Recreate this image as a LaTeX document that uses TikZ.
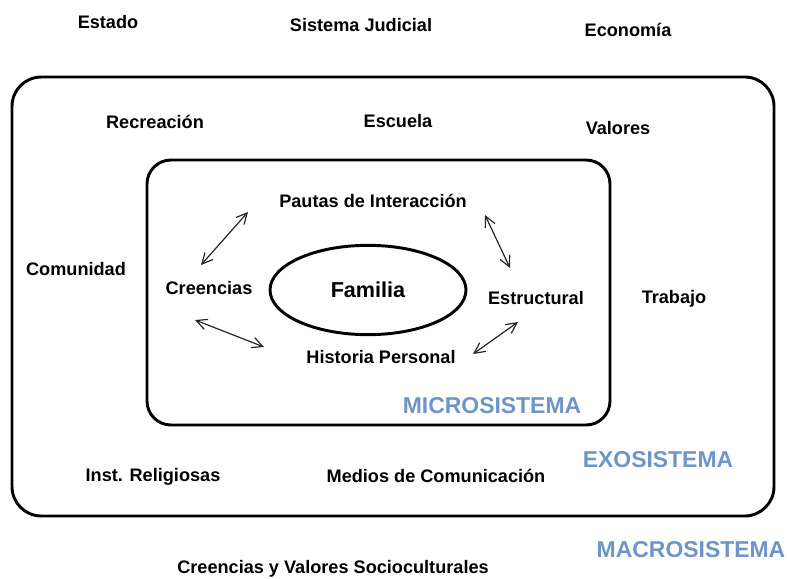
\documentclass[tikz,border=0pt]{standalone}
\usepackage{fontspec}
\setmainfont{Liberation Sans}
\usetikzlibrary{arrows.meta,shapes.geometric}
\definecolor{sysblue}{RGB}{112,148,200}
\tikzset{every picture/.style={line width=0.75pt}}
\tikzset{
  lbl/.style={inner sep=0.75pt, font=\fontsize{13.6}{15}\selectfont\bfseries},
  syslbl/.style={inner sep=0.75pt, text=sysblue, font=\fontsize{17.2}{19}\selectfont\bfseries},
  dbl/.style={{Straight Barb[length=8pt,width=8pt]}-{Straight Barb[length=8pt,width=8pt]}, draw=black!85, line width=0.9pt}
}
\begin{document}
\begin{tikzpicture}[x=0.75pt,y=0.75pt,yscale=-1,xscale=1]
\useasboundingbox (0,0) rectangle (787,578);

%Rounded rect: exosistema
\draw [line width=2.2pt, rounded corners=22pt] (12,77) rectangle (774,516);
%Rounded rect: microsistema
\draw [line width=2.2pt, rounded corners=18pt] (147,160) rectangle (610,425);
%Ellipse: familia
\node (familia) [draw, ellipse, line width=2.2pt, minimum width=147pt, minimum height=67pt, inner sep=0pt, font=\fontsize{16.2}{18}\selectfont\bfseries] at (368,290) {Familia};

% Text Node: macrosistema
\node (estado) [lbl] at (108,22) {Estado};
\node (judicial) [lbl] at (361,25) {Sistema Judicial};
\node (economia) [lbl] at (628,30) {Economía};
\node (creenciasvs) [lbl] at (333,569) {Creencias y Valores Socioculturales};
\node (macro) [syslbl] at (691,550) {MACROSISTEMA};

% Text Node: exosistema
\node (recreacion) [lbl] at (155,122) {Recreación};
\node (escuela) [lbl] at (398,121) {Escuela};
\node (valores) [lbl] at (618,128) {Valores};
\node (comunidad) [lbl] at (76,269) {Comunidad};
\node (trabajo) [lbl] at (674,299) {Trabajo};
\node (religiosas) [lbl] at (153,477) {Inst. Religiosas};
\node (medios) [lbl] at (436,476) {Medios de Comunicación};
\node (exo) [syslbl] at (658,460) {EXOSISTEMA};

% Text Node: microsistema
\node (pautas) [lbl] at (373,201) {Pautas de Interacción};
\node (creencias) [lbl] at (209,288) {Creencias};
\node (estructural) [lbl] at (536,298) {Estructural};
\node (historia) [lbl] at (381,357) {Historia Personal};
\node (micro) [syslbl] at (492,406) {MICROSISTEMA};

%Straight Lines: double arrows
\coordinate (a1) at (248,212); \coordinate (a2) at (201,265);
\coordinate (b1) at (195,320); \coordinate (b2) at (264,347);
\coordinate (c1) at (485,215); \coordinate (c2) at (510,268);
\coordinate (d1) at (518,322); \coordinate (d2) at (473,354);
\draw [dbl] (a1) -- (a2);
\draw [dbl] (b1) -- (b2);
\draw [dbl] (c1) -- (c2);
\draw [dbl] (d1) -- (d2);

\end{tikzpicture}
\end{document}
